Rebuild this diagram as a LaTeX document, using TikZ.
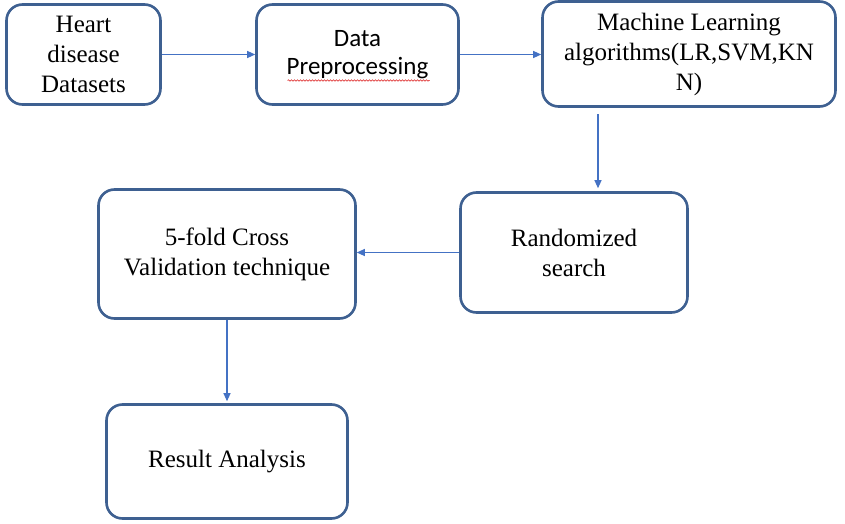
\documentclass[tikz,border=0pt]{standalone}
\definecolor{boxblue}{RGB}{62, 96, 145}
\definecolor{flowblue}{RGB}{68, 114, 196}
\definecolor{spellred}{RGB}{220, 30, 30}
\usepackage{fontspec}
\setmainfont{Liberation Serif}
\newfontfamily\calfont{Carlito}
\usepackage{tikz}
\usetikzlibrary{arrows.meta, calc, decorations.pathmorphing}

\tikzset{
  stage/.style={draw=boxblue, line width=2.6pt, fill=white, rounded corners=16pt, align=center, inner sep=0pt, font=\fontsize{25}{30}\selectfont},
  flow/.style={draw=flowblue, line width=1.1pt, -{Triangle[length=8pt,width=7pt]}}
}

\begin{document}
\begin{tikzpicture}[x=1pt, y=-1pt]
  \useasboundingbox (0,0) rectangle (845,524);

  % Top row
  \node[stage, minimum width=154pt, minimum height=100pt] (heart) at (83.5, 54.5) {Heart\\disease\\Datasets};
  \node[stage, minimum width=202pt, minimum height=100pt, font=\fontsize{25}{28}\calfont] (prep) at (357.5, 54.5) {Data\\Preprocessing};
  \node[stage, minimum width=293pt, minimum height=105pt] (ml) at (689, 54) {Machine Learning\\algorithms(LR,SVM,KN\\N)};

  % Middle row
  \node[stage, minimum width=227pt, minimum height=120pt] (rand) at (574, 252.5) {Randomized\\search};
  \node[stage, minimum width=257pt, minimum height=129pt] (cv) at (227, 254) {5-fold Cross\\Validation technique};

  % Bottom
  \node[stage, minimum width=241pt, minimum height=114pt] (res) at (227, 461.5) {Result Analysis};

  % spell-check squiggle
  \draw[spellred, line width=0.6pt, decorate, decoration={snake, amplitude=0.7pt, segment length=3pt}]
    ($(prep.center)+(-70,26)$) -- ++(142,0);

  % Connectors
  \draw[flow] (heart.east) -- (prep.west);
  \draw[flow] (prep.east) -- (prep.east -| ml.west);
  \draw[flow, shorten >=3pt] ([xshift=-91pt, yshift=-6.5pt]ml.south) -- ([xshift=24pt]rand.north);
  \draw[flow] (rand.west) -- (rand.west -| cv.east);
  \draw[flow, shorten >=2pt] (cv.south) -- (res.north);
\end{tikzpicture}
\end{document}
